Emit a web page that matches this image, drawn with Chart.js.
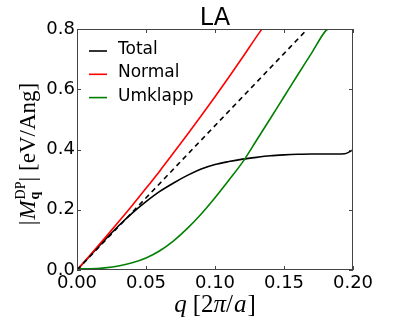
<!DOCTYPE html>
<html><head><meta charset="utf-8">
<style>html,body{margin:0;padding:0;background:#fff;}#wrap{width:407px;height:326px;}</style>
<script src="https://cdn.jsdelivr.net/npm/chart.js@4.4.1/dist/chart.umd.min.js"></script>
</head><body><div id="wrap"><canvas id="c" width="407" height="326"></canvas></div>
<script>
// ---- data ----
const titleText = 'LA';
const xTicks = [0, 0.05, 0.10, 0.15, 0.20];
const yTicks = [0, 0.2, 0.4, 0.6, 0.8];

const totalQ = [0, 0.01, 0.02, 0.03, 0.04, 0.05, 0.06, 0.07, 0.08, 0.09, 0.10, 0.11, 0.12, 0.13, 0.14, 0.15, 0.16, 0.17, 0.18, 0.194, 0.2];
const totalM = [0, 0.05, 0.099, 0.146, 0.189, 0.227, 0.261, 0.289, 0.314, 0.335, 0.350, 0.360, 0.368, 0.374, 0.379, 0.382, 0.384, 0.385, 0.385, 0.386, 0.399];

const normalQ = [0, 0.01, 0.02, 0.03, 0.04, 0.05, 0.06, 0.07, 0.08, 0.09, 0.10, 0.11, 0.12, 0.13, 0.134];
const normalM = [0, 0.052, 0.105, 0.159, 0.214, 0.271, 0.329, 0.389, 0.45, 0.512, 0.575, 0.64, 0.706, 0.774, 0.8];

const umklappQ = [0, 0.01, 0.02, 0.03, 0.04, 0.05, 0.06, 0.07, 0.08, 0.09, 0.10, 0.11, 0.12, 0.13, 0.14, 0.15, 0.16, 0.17, 0.18, 0.182];
const umklappM = [0.004, 0.004, 0.007, 0.013, 0.024, 0.04, 0.064, 0.097, 0.138, 0.186, 0.24, 0.298, 0.358, 0.43, 0.502, 0.575, 0.648, 0.72, 0.793, 0.8];

const linearQ = [0, 0.167];
const linearM = [0, 0.8];

const legendLabels = ['Total', 'Normal', 'Umklapp'];
const legendColors = ['#000000', '#ff0000', '#008000'];

function pts(xs, ys) { return xs.map((x, i) => ({x: x, y: ys[i]})); }

const SERIF = '"Liberation Serif", "Times New Roman", serif';
const SANS = '"DejaVu Sans", sans-serif';

function drawPieces(ctx, pieces, startX, baseY) {
  let x = startX;
  for (const p of pieces) {
    if (p.script) {
      let adv = 0;
      for (const s of p.script) {
        ctx.font = s.font;
        ctx.fillText(s.t, x, baseY + s.dy);
        adv = Math.max(adv, ctx.measureText(s.t).width);
      }
      x += adv + (p.sp || 0);
    } else {
      ctx.font = p.font;
      ctx.fillText(p.t, x, baseY + (p.dy || 0));
      x += ctx.measureText(p.t).width + (p.sp || 0);
    }
  }
}
function measurePieces(ctx, pieces) {
  let w = 0;
  for (const p of pieces) {
    if (p.script) {
      let adv = 0;
      for (const s of p.script) { ctx.font = s.font; adv = Math.max(adv, ctx.measureText(s.t).width); }
      w += adv + (p.sp || 0);
    } else { ctx.font = p.font; w += ctx.measureText(p.t).width + (p.sp || 0); }
  }
  return w;
}

const decor = {
  id: 'decor',
  afterDatasetsDraw(chart) {
    const ctx = chart.ctx;
    const a = chart.chartArea;
    const xs = chart.scales.x, ys = chart.scales.y;
    ctx.save();
    // frame
    ctx.strokeStyle = '#444';
    ctx.lineWidth = 1;
    ctx.strokeRect(Math.round(a.left) + 0.5, Math.round(a.top) + 0.5, Math.round(a.right - a.left) - 1, Math.round(a.bottom - a.top) - 1);
    // inward ticks on all sides
    ctx.beginPath();
    for (const v of xTicks) {
      const px = Math.round(xs.getPixelForValue(v)) + 0.5;
      ctx.moveTo(px, a.bottom); ctx.lineTo(px, a.bottom - 4);
      ctx.moveTo(px, a.top); ctx.lineTo(px, a.top + 4);
    }
    for (const v of yTicks) {
      const py = Math.round(ys.getPixelForValue(v)) + 0.5;
      ctx.moveTo(a.left, py); ctx.lineTo(a.left + 4, py);
      ctx.moveTo(a.right, py); ctx.lineTo(a.right - 4, py);
    }
    ctx.stroke();

    // legend
    ctx.textBaseline = 'alphabetic';
    ctx.textAlign = 'left';
    ctx.font = '17px ' + SANS;
    for (let i = 0; i < legendLabels.length; i++) {
      const ly = 51 + i * 23.3;
      ctx.strokeStyle = legendColors[i];
      ctx.lineWidth = 1.6;
      ctx.beginPath(); ctx.moveTo(89, ly); ctx.lineTo(107, ly); ctx.stroke();
      ctx.fillStyle = '#000';
      ctx.fillText(legendLabels[i], 118, ly + 3);
    }

    // title
    ctx.fillStyle = '#000';
    ctx.textAlign = 'center';
    ctx.font = '24px ' + SANS;
    ctx.fillText(titleText, (a.left + a.right) / 2, 25);

    // x axis title
    ctx.textAlign = 'left';
    const F = 25;
    const xPieces = [
      {t: 'q', font: `italic ${F}px ${SERIF}`, sp: 6},
      {t: '[2', font: `${F}px ${SERIF}`},
      {t: 'π', font: `italic ${F}px ${SERIF}`},
      {t: '/', font: `${F}px ${SERIF}`, sp: 1},
      {t: 'a', font: `italic ${F}px ${SERIF}`, sp: 1},
      {t: ']', font: `${F}px ${SERIF}`}
    ];
    const xw = measurePieces(ctx, xPieces);
    drawPieces(ctx, xPieces, (a.left + a.right) / 2 - xw / 2, 312);

    // y axis title (rotated)
    const G = 23, S = 14;
    const yPieces = [
      {t: '|', font: `${G}px ${SERIF}`, sp: 1},
      {t: 'M', font: `italic ${G}px ${SERIF}`, sp: 1},
      {script: [
        {t: 'DP', font: `${S}px ${SERIF}`, dy: -10},
        {t: 'q', font: `bold ${S}px ${SERIF}`, dy: 4}
      ]},
      {t: '|', font: `${G}px ${SERIF}`, sp: 6},
      {t: '[eV/Ang]', font: `${G}px ${SERIF}`}
    ];
    const yw = measurePieces(ctx, yPieces);
    ctx.translate(35, 154);
    ctx.rotate(-Math.PI / 2);
    drawPieces(ctx, yPieces, -yw / 2, 0);
    ctx.restore();
  }
};

const ds = (label, xsArr, ysArr, color, dash) => ({
  label: label,
  data: pts(xsArr, ysArr),
  borderColor: color,
  backgroundColor: color,
  borderWidth: 1.6,
  borderDash: dash || [],
  pointRadius: 0,
  fill: false,
  cubicInterpolationMode: 'monotone'
});

new Chart(document.getElementById('c').getContext('2d'), {
  type: 'line',
  data: {
    datasets: [
      ds('Linear', linearQ, linearM, '#000000', [5, 4]),
      ds('Umklapp', umklappQ, umklappM, '#008000'),
      ds('Normal', normalQ, normalM, '#ff0000'),
      ds('Total', totalQ, totalM, '#000000')
    ]
  },
  options: {
    responsive: false,
    animation: false,
    devicePixelRatio: 1,
    layout: {padding: {top: 29, right: 54, left: 0, bottom: 0}},
    plugins: {legend: {display: false}, title: {display: false}, tooltip: {enabled: false}},
    scales: {
      x: {
        type: 'linear', min: 0, max: 0.2,
        afterFit(s) { s.height = 56; },
        afterBuildTicks(s) { s.ticks = xTicks.map(v => ({value: v})); },
        grid: {display: false, drawTicks: false},
        border: {display: false},
        ticks: {autoSkip: false, maxRotation: 0, padding: 3, color: '#000',
          font: {family: 'DejaVu Sans', size: 18},
          callback: v => Number(v).toFixed(2)}
      },
      y: {
        type: 'linear', min: 0, max: 0.8,
        afterFit(s) { s.width = 77; },
        afterBuildTicks(s) { s.ticks = yTicks.map(v => ({value: v})); },
        grid: {display: false, drawTicks: false},
        border: {display: false},
        ticks: {autoSkip: false, padding: 2, color: '#000',
          font: {family: 'DejaVu Sans', size: 18},
          callback: v => Number(v).toFixed(1)}
      }
    }
  },
  plugins: [decor]
});
</script>
</body></html>
